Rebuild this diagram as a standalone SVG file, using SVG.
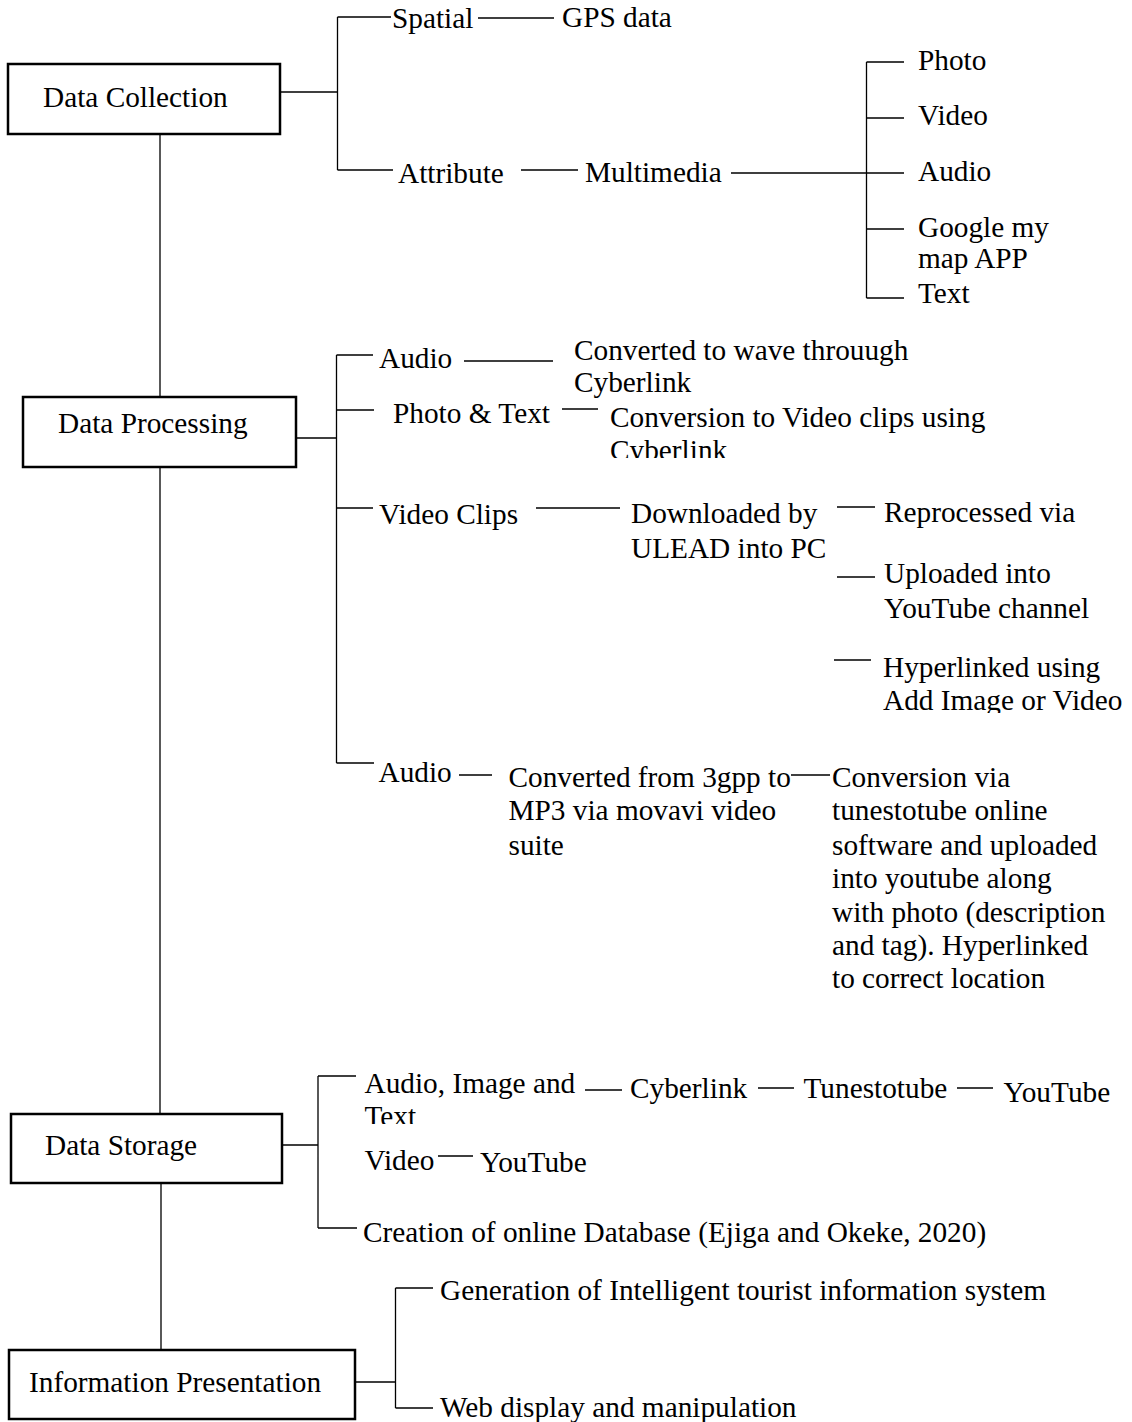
<svg xmlns="http://www.w3.org/2000/svg" width="1132" height="1422" viewBox="0 0 1132 1422">
<style>
.box{fill:#fff;stroke:#000;stroke-width:2.5}
.t{font-family:"Liberation Serif","Times New Roman",serif;font-size:29.3px;fill:#000}
.c{stroke:#000;stroke-width:1.3;fill:none}
</style>
<defs>
<clipPath id="clipCyber"><rect x="0" y="0" width="1132" height="458"/></clipPath>
<clipPath id="clipAdd"><rect x="0" y="0" width="1132" height="713"/></clipPath>
<clipPath id="clipText"><rect x="0" y="0" width="1132" height="1124"/></clipPath>
</defs>
<rect width="1132" height="1422" fill="#fff"/>
<g id="connectors">
<path class="c" d="M160,134V397M160,467V1114M161,1183V1350"/>
<path class="c" d="M280,92H337.5M337.5,17V170M337.5,17H391M337.5,170H393M478,18H554M521,170H578M731,173H904M866.5,62V298M866.5,62H904M866.5,118H904M866.5,229H904M866.5,298H904"/>
<path class="c" d="M296,438H336.5M336.5,355V763M336.5,355H373M464,361H553M336.5,410H374M562,409H598M336.5,508H373M536,508H620M837,507H875M837,577H875M834,660H871M336.5,763H374M459,775H492M791,775H830"/>
<path class="c" d="M282,1145H318M318,1076V1228M318,1076H356M585,1090H622M758,1088H794M957,1088H993M438,1156H473M318,1228H357"/>
<path class="c" d="M355,1382H395.5M395.5,1288V1408M395.5,1288H433M395.5,1408H433"/>
</g>
<g id="n-collection"><rect class="box" x="8" y="64" width="272" height="70"/><text class="t" x="43" y="107">Data Collection</text></g>
<g id="n-spatial"><text class="t" x="392" y="28">Spatial</text></g>
<g id="n-gps"><text class="t" x="562" y="27">GPS data</text></g>
<g id="n-attribute"><text class="t" x="398" y="183">Attribute</text></g>
<g id="n-multimedia"><text class="t" x="585" y="182">Multimedia</text></g>
<g id="n-photo"><text class="t" x="918" y="70">Photo</text></g>
<g id="n-video"><text class="t" x="918" y="125">Video</text></g>
<g id="n-audio"><text class="t" x="918" y="181">Audio</text></g>
<g id="n-google"><text class="t" x="918" y="237">Google my</text><text class="t" x="918" y="268">map APP</text></g>
<g id="n-text"><text class="t" x="918" y="303">Text</text></g>
<g id="n-processing"><rect class="box" x="23" y="397" width="273" height="70"/><text class="t" x="58" y="433">Data Processing</text></g>
<g id="n-audio-p"><text class="t" x="379" y="368">Audio</text></g>
<g id="n-wave"><text class="t" x="574" y="360">Converted to wave throuugh</text><text class="t" x="574" y="392">Cyberlink</text></g>
<g id="n-phototext"><text class="t" x="393" y="423">Photo &amp; Text</text></g>
<g id="n-convvideo"><text class="t" x="610" y="427">Conversion to Video clips using</text><text class="t" x="610" y="460" clip-path="url(#clipCyber)">Cyberlink</text></g>
<g id="n-videoclips"><text class="t" x="379" y="524">Video Clips</text></g>
<g id="n-downloaded"><text class="t" x="631" y="523">Downloaded by</text><text class="t" x="631" y="558">ULEAD into PC</text></g>
<g id="n-reprocessed"><text class="t" x="884" y="522">Reprocessed via</text></g>
<g id="n-uploaded"><text class="t" x="884" y="583">Uploaded into</text><text class="t" x="884" y="618">YouTube channel</text></g>
<g id="n-hyperlinked"><text class="t" x="883" y="677">Hyperlinked using</text><text class="t" x="883" y="710" clip-path="url(#clipAdd)">Add Image or Video</text></g>
<g id="n-audio-p2"><text class="t" x="378.5" y="782">Audio</text></g>
<g id="n-3gpp"><text class="t" x="508.5" y="787">Converted from 3gpp to</text><text class="t" x="508.5" y="820">MP3 via movavi video</text><text class="t" x="508.5" y="855">suite</text></g>
<g id="n-tunes"><text class="t" x="832" y="787">Conversion via</text><text class="t" x="832" y="820">tunestotube online</text><text class="t" x="832" y="855">software and uploaded</text><text class="t" x="832" y="888">into youtube along</text><text class="t" x="832" y="922">with photo (description</text><text class="t" x="832" y="955">and tag). Hyperlinked</text><text class="t" x="832" y="988">to correct location</text></g>
<g id="n-storage"><rect class="box" x="11" y="1114" width="271" height="69"/><text class="t" x="45" y="1155">Data Storage</text></g>
<g id="n-audioimage"><text class="t" x="364.5" y="1093">Audio, Image and</text><text class="t" x="364.5" y="1126" clip-path="url(#clipText)">Text</text></g>
<g id="n-cyberlink"><text class="t" x="630" y="1098">Cyberlink</text></g>
<g id="n-tunestotube"><text class="t" x="803.5" y="1098">Tunestotube</text></g>
<g id="n-youtube1"><text class="t" x="1003.5" y="1102">YouTube</text></g>
<g id="n-video-s"><text class="t" x="364.5" y="1170">Video</text></g>
<g id="n-youtube2"><text class="t" x="480" y="1172">YouTube</text></g>
<g id="n-creation"><text class="t" x="363" y="1242">Creation of online Database (Ejiga and Okeke, 2020)</text></g>
<g id="n-presentation"><rect class="box" x="9" y="1350" width="346" height="69"/><text class="t" x="29" y="1392">Information Presentation</text></g>
<g id="n-generation"><text class="t" x="440" y="1300">Generation of Intelligent tourist information system</text></g>
<g id="n-web"><text class="t" x="440" y="1417">Web display and manipulation</text></g>
</svg>
